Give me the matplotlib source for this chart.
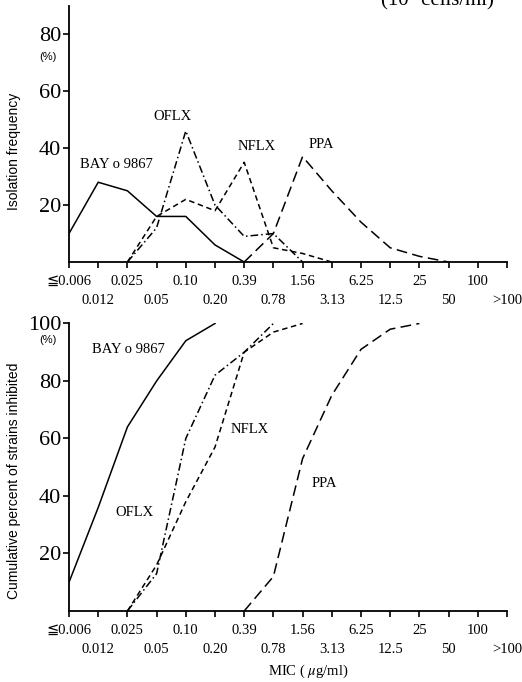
import numpy as np
import matplotlib
matplotlib.use('Agg')
import matplotlib.pyplot as plt
import matplotlib.ticker as ticker

# MIC classes (ug/ml), one tick per twofold dilution
mic = ['≦0.006', '0.012', '0.025', '0.05', '0.10', '0.20', '0.39', '0.78',
       '1.56', '3.13', '6.25', '12.5', '25', '50', '100', '>100']

# isolation frequency (%) -- index = position in mic list
bay_x  = [0, 1, 2, 3, 4, 5, 6]
bay_f  = [10, 28, 25, 16, 16, 6, 0]
oflx_x = [2, 3, 4, 5, 6, 7, 8]
oflx_f = [0, 12, 46, 20, 9, 10, 0]
nflx_x = [2, 3, 4, 5, 6, 7, 8, 9]
nflx_f = [0, 16, 22, 18, 35, 5, 3, 0]
ppa_x  = [6, 7, 8, 9, 10, 11, 12, 13]
ppa_f  = [0, 10, 37, 25, 14, 5, 2, 0]

# cumulative percent of strains inhibited
bay_cx  = [0, 1, 2, 3, 4, 5]
bay_c   = [10, 36, 64, 80, 94, 100]
oflx_cx = [2, 3, 4, 5, 6, 7]
oflx_c  = [0, 13, 60, 82, 90, 100]
nflx_cx = [2, 3, 4, 5, 6, 7, 8]
nflx_c  = [0, 16, 38, 57, 90, 97, 100]
ppa_cx  = [6, 7, 8, 9, 10, 11, 12]
ppa_c   = [0, 12, 53, 75, 91, 98, 100]

serif = ['Liberation Serif', 'DejaVu Serif', 'DejaVu Sans']
narrow = ['Liberation Sans Narrow', 'Liberation Sans', 'DejaVu Sans']
plt.rcParams.update({'font.family': serif, 'mathtext.fontset': 'stix'})

# line styles for each drug
sty = {'BAY': dict(ls='-'),
       'OFLX': dict(ls=(0, (5, 2, 1, 2))),
       'NFLX': dict(ls=(0, (3.6, 2.4))),
       'PPA': dict(ls=(0, (7, 3.5)))}
lw = 1.1

fig = plt.figure(figsize=(5.22, 6.82), dpi=100)
ax1 = fig.add_axes([0.1322, 0.6158, 0.839, 0.376])
ax2 = fig.add_axes([0.1322, 0.1041, 0.839, 0.4216])

def setup(ax, ytop):
    for s in ['top', 'right']:
        ax.spines[s].set_visible(False)
    for s in ['left', 'bottom']:
        ax.spines[s].set_linewidth(1.3)
    ax.set_xlim(0, 15); ax.set_ylim(0, ytop)
    # even classes on the first row (major), odd ones on a second row (minor, bigger pad)
    ax.xaxis.set_major_locator(ticker.FixedLocator(range(0, 16, 2)))
    ax.xaxis.set_minor_locator(ticker.FixedLocator(range(1, 16, 2)))
    ax.xaxis.set_major_formatter(ticker.FixedFormatter(mic[0::2]))
    ax.xaxis.set_minor_formatter(ticker.FixedFormatter(mic[1::2]))
    ax.yaxis.set_major_locator(ticker.FixedLocator([20, 40, 60, 80] + ([100] if ytop >= 100 else [])))
    ax.tick_params(axis='x', which='major', direction='out', length=4, width=1.2, pad=5, labelsize=10.5)
    ax.tick_params(axis='x', which='minor', direction='out', length=4, width=1.2, pad=19, labelsize=10.5)
    ax.tick_params(axis='y', direction='out', length=4, width=1.2, pad=1.5, labelsize=16)
    ax.patch.set_alpha(0)

setup(ax1, 90)
setup(ax2, 100)

c = 'k'
ax1.plot(bay_x, bay_f, color=c, lw=lw, **sty['BAY'])
ax1.plot(oflx_x, oflx_f, color=c, lw=lw, **sty['OFLX'])
ax1.plot(nflx_x, nflx_f, color=c, lw=lw, **sty['NFLX'])
ax1.plot(ppa_x, ppa_f, color=c, lw=lw, **sty['PPA'])

ax2.plot(bay_cx, bay_c, color=c, lw=lw, **sty['BAY'])
ax2.plot(oflx_cx, oflx_c, color=c, lw=lw, **sty['OFLX'])
ax2.plot(nflx_cx, nflx_c, color=c, lw=lw, **sty['NFLX'])
ax2.plot(ppa_cx, ppa_c, color=c, lw=lw, **sty['PPA'])

fs = 10.5
ax1.text(1.61, 34.4, 'BAY o 9867', fontsize=fs, ha='center', va='center')
ax1.text(3.56, 50.9, 'OFLX', fontsize=fs, ha='center', va='center')
ax1.text(6.44, 40.4, 'NFLX', fontsize=fs, ha='center', va='center')
ax1.text(8.63, 41.4, 'PPA', fontsize=fs, ha='center', va='center')

ax2.text(2.02, 90.8, 'BAY o 9867', fontsize=fs, ha='center', va='center')
ax2.text(6.2, 63.0, 'NFLX', fontsize=fs, ha='center', va='center')
ax2.text(8.73, 44.5, 'PPA', fontsize=fs, ha='center', va='center')
ax2.text(2.23, 34.4, 'OFLX', fontsize=fs, ha='center', va='center')

# (%) under the top tick of each axis
fig.text(48/522, 1 - 57/682, '(%)', fontsize=8, ha='center', va='center', family=narrow)
fig.text(48/522, 1 - 340/682, '(%)', fontsize=8, ha='center', va='center', family=narrow)

fig.text(14/522, 1 - 151/682, 'Isolation frequency', rotation=90, fontsize=10,
         ha='center', va='center', family=narrow)
fig.text(14/522, 1 - 481/682, 'Cumulative percent of strains inhibited', rotation=90,
         fontsize=10, ha='center', va='center', family=narrow)

fig.text(308/522, 1 - 671/682, r'MIC ( $\mu$g/ml)', fontsize=10.5, ha='center', va='center')
fig.text(437/522, 1 - 5/682, '(10⁶ cells/ml)', fontsize=15, ha='center', va='baseline')

fig.savefig('out.png', dpi=100)
